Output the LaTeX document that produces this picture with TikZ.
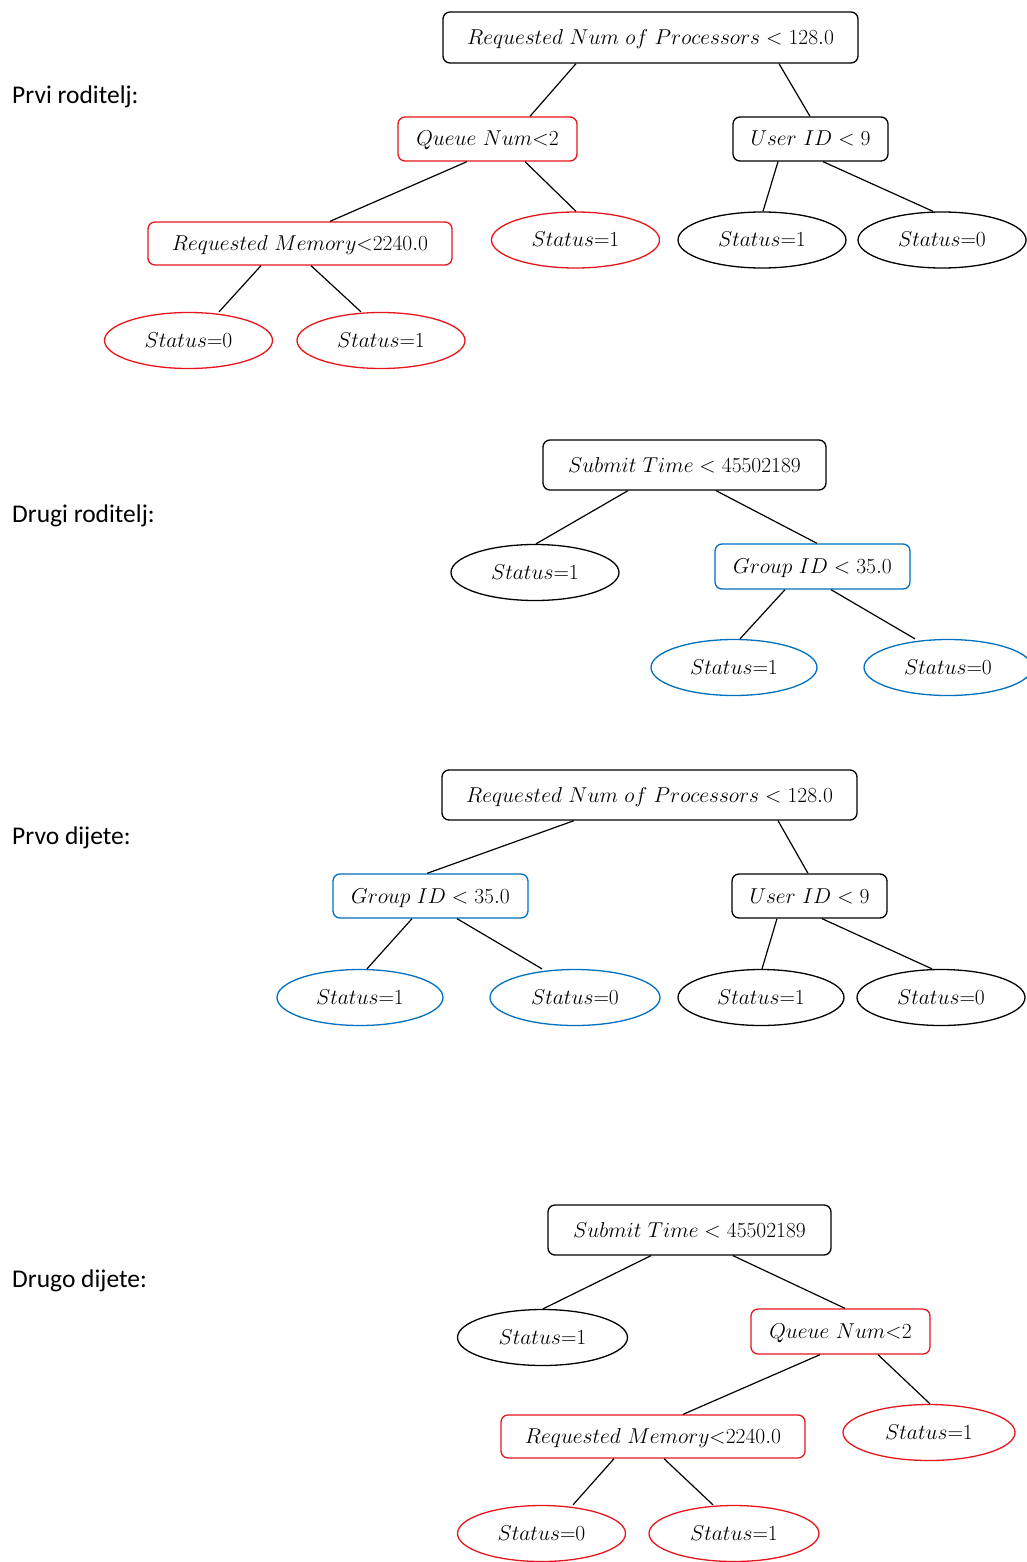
\RequirePackage{fix-cm}
\documentclass[tikz,border=0pt]{standalone}
\usepackage{fontspec}
\newfontfamily\labfont{Carlito}
\usetikzlibrary{shapes.geometric}
\definecolor{tred}{RGB}{232,22,28}
\definecolor{tblue}{RGB}{0,112,192}
\tikzset{
  mtext/.style={font=\fontsize{21.5}{25}\selectfont, text height=17pt, text depth=3pt},
  cond/.style={mtext, draw, rounded corners=7pt, line width=1.3pt, inner sep=0pt},
  leaf/.style={mtext, draw, ellipse, line width=1.3pt, inner sep=0pt,
               minimum width=168pt, minimum height=56pt},
  blk/.style={draw=black},
  rd/.style={draw=tred},
  bl/.style={draw=tblue},
  edge/.style={line width=1.2pt, black},
  lab/.style={anchor=west, inner sep=0pt, font=\labfont\fontsize{25.5}{29}\selectfont}
}
\begin{document}
\begin{tikzpicture}[x=1pt, y=-1pt]
\useasboundingbox[fill=white] (0,0) rectangle (1027,1562);

% ---------- Prvi roditelj ----------
\node[lab] (l1) at (12,97) {Prvi roditelj:};
\node[cond, blk, minimum width=415pt, minimum height=51pt] (a0) at (650.5,37.5) {$Requested\ Num\ of\ Processors < 128.0$};
\node[cond, rd, minimum width=179pt, minimum height=44pt] (a1) at (487.5,139) {$Queue\ Num{<}2$};
\node[cond, blk, minimum width=155pt, minimum height=44pt] (a2) at (810.5,139) {$User\ ID < 9$};
\node[cond, rd, minimum width=304pt, minimum height=43pt] (a3) at (300,243.5) {$Requested\ Memory{<}2240.0$};
\node[leaf, rd] (a4) at (575.5,240) {$Status{=}1$};
\node[leaf, blk] (a5) at (762,240) {$Status{=}1$};
\node[leaf, blk] (a6) at (942,240) {$Status{=}0$};
\node[leaf, rd] (a7) at (188.5,340.5) {$Status{=}0$};
\node[leaf, rd] (a8) at (381,340.5) {$Status{=}1$};
\draw[edge] ([xshift=-74.5pt]a0.south) -- ([xshift=42.5pt]a1.north);
\draw[edge] ([xshift=128.5pt]a0.south) -- ([xshift=-0.5pt]a2.north);
\draw[edge] ([xshift=-20.5pt]a1.south) -- ([xshift=30pt]a3.north);
\draw[edge] ([xshift=37.5pt]a1.south) -- ([xshift=0.5pt]a4.north);
\draw[edge] ([xshift=-32.5pt]a2.south) -- ([xshift=1pt]a5.north);
\draw[edge] ([xshift=12.5pt]a2.south) -- ([xshift=-9pt]a6.north);
\draw[edge] ([xshift=-39pt]a3.south) -- ([xshift=30.5pt]a7.north);
\draw[edge] ([xshift=11pt]a3.south) -- ([xshift=-20pt]a8.north);

% ---------- Drugi roditelj ----------
\node[lab] (l2) at (12,516) {Drugi roditelj:};
\node[cond, blk, minimum width=283pt, minimum height=50pt] (b0) at (684.5,465) {$Submit\ Time < 45502189$};
\node[leaf, blk] (b1) at (535,572.5) {$Status{=}1$};
\node[cond, bl, minimum width=195pt, minimum height=45pt] (b2) at (812.5,566.5) {$Group\ ID < 35.0$};
\node[leaf, bl, minimum width=166pt] (b3) at (734,667.5) {$Status{=}1$};
\node[leaf, bl] (b4) at (948,667.5) {$Status{=}0$};
\draw[edge] ([xshift=-56.5pt]b0.south) -- ([xshift=1pt]b1.north);
\draw[edge] ([xshift=31.5pt]b0.south) -- ([xshift=4.5pt]b2.north);
\draw[edge] ([xshift=-27.5pt]b2.south) -- ([xshift=6pt]b3.north);
\draw[edge] ([xshift=18.5pt]b2.south) -- ([xshift=-33pt]b4.north);

% ---------- Prvo dijete ----------
\node[lab] (l3) at (12,838) {Prvo dijete:};
\node[cond, blk, minimum width=415pt, minimum height=50pt] (c0) at (649.5,795) {$Requested\ Num\ of\ Processors < 128.0$};
\node[cond, bl, minimum width=195pt, minimum height=44pt] (c1) at (430.5,896) {$Group\ ID < 35.0$};
\node[cond, blk, minimum width=155pt, minimum height=44pt] (c2) at (809.5,896) {$User\ ID < 9$};
\node[leaf, bl, minimum width=166pt] (c3) at (360,997.5) {$Status{=}1$};
\node[leaf, bl, minimum width=170pt] (c4) at (575,997.5) {$Status{=}0$};
\node[leaf, blk, minimum width=166pt] (c5) at (761,997.5) {$Status{=}1$};
\node[leaf, blk] (c6) at (941,997.5) {$Status{=}0$};
\draw[edge] ([xshift=-75.5pt]c0.south) -- ([xshift=-3.5pt]c1.north);
\draw[edge] ([xshift=128.5pt]c0.south) -- ([xshift=-1.5pt]c2.north);
\draw[edge] ([xshift=-18.5pt]c1.south) -- ([xshift=7pt]c3.north);
\draw[edge] ([xshift=26.5pt]c1.south) -- ([xshift=-33pt]c4.north);
\draw[edge] ([xshift=-32.5pt]c2.south) -- ([xshift=1pt]c5.north);
\draw[edge] ([xshift=12.5pt]c2.south) -- ([xshift=-9pt]c6.north);

% ---------- Drugo dijete ----------
\node[lab] (l4) at (12,1281) {Drugo dijete:};
\node[cond, blk, minimum width=283pt, minimum height=50pt] (d0) at (689.5,1230) {$Submit\ Time < 45502189$};
\node[leaf, blk, minimum width=170pt] (d1) at (542.5,1337.5) {$Status{=}1$};
\node[cond, rd, minimum width=179pt, minimum height=45pt] (d2) at (840.5,1331.5) {$Queue\ Num{<}2$};
\node[cond, rd, minimum width=304pt, minimum height=43pt] (d3) at (653,1436.5) {$Requested\ Memory{<}2240.0$};
\node[leaf, rd, minimum width=172pt] (d4) at (929,1432.5) {$Status{=}1$};
\node[leaf, rd] (d5) at (541.5,1533.5) {$Status{=}0$};
\node[leaf, rd, minimum width=170pt] (d6) at (734,1533.5) {$Status{=}1$};
\draw[edge] ([xshift=-38.5pt]d0.south) -- ([xshift=0.5pt]d1.north);
\draw[edge] ([xshift=43.5pt]d0.south) -- ([xshift=4.5pt]d2.north);
\draw[edge] ([xshift=-20.5pt]d2.south) -- ([xshift=30pt]d3.north);
\draw[edge] ([xshift=37.5pt]d2.south) -- ([xshift=1pt]d4.north);
\draw[edge] ([xshift=-39pt]d3.south) -- ([xshift=31.5pt]d5.north);
\draw[edge] ([xshift=11pt]d3.south) -- ([xshift=-21pt]d6.north);
\end{tikzpicture}
\end{document}
